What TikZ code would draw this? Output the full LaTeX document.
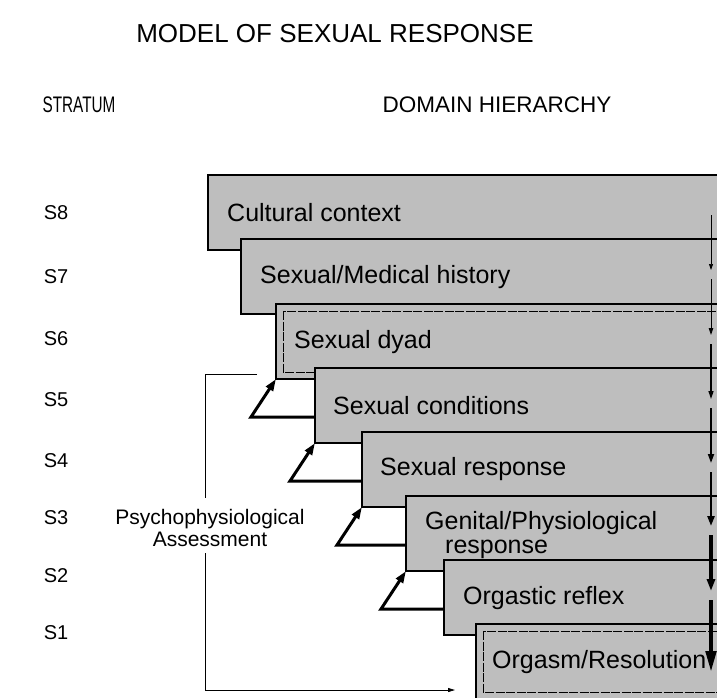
\documentclass[tikz,border=0pt]{standalone}
\usepackage{fontspec}
\setmainfont{Liberation Sans}
\usetikzlibrary{arrows.meta,calc}
\definecolor{boxgray}{RGB}{190,190,190}
\begin{document}
\begin{tikzpicture}[x=1pt,y=-1pt,
  box/.style={draw=black, line width=1.4pt, fill=boxgray, rectangle, anchor=north west,
    minimum width=600pt, minimum height=75pt, inner sep=0pt, outer sep=0pt},
  lbl/.style={anchor=west, inner sep=0pt, font=\fontsize{25}{24}\selectfont},
  strat/.style={inner sep=0pt, font=\fontsize{20}{22}\selectfont},
  innerline/.style={draw=black, line width=0.7pt, dash pattern=on 9pt off 1.5pt},
  barrow/.style={line width=3pt, -{Triangle[length=12pt 0 0,width=8pt 0 0]}},
  thinline/.style={line width=0.8pt},
  seg/.style={shorten <=2pt}]
\useasboundingbox (0,0) rectangle (717,697);
\clip (0,0) rectangle (717,697);

% headings
\node[inner sep=0pt, font=\fontsize{26}{28}\selectfont] (title) at (335,34) {MODEL OF SEXUAL RESPONSE};
\node[inner sep=0pt, font=\fontsize{22.5}{24}\selectfont, xscale=0.68] (stratum) at (79,105) {STRATUM};
\node[inner sep=0pt, font=\fontsize{22.5}{24}\selectfont] (domain) at (497,105) {DOMAIN HIERARCHY};

% stratum labels
\node[strat] (s8) at (56,213) {S8};
\node[strat] (s7) at (56,277) {S7};
\node[strat] (s6) at (56,339) {S6};
\node[strat] (s5) at (56,400) {S5};
\node[strat] (s4) at (56,461) {S4};
\node[strat] (s3) at (56,518) {S3};
\node[strat] (s2) at (56,576) {S2};
\node[strat] (s1) at (56,633) {S1};

% domain boxes
\node[box] (b8) at (208,175) {};
\node[lbl] (t8) at ($(b8.north west)+(19,38)$) {Cultural context};
\node[box] (b7) at (241,239) {};
\node[lbl] (t7) at ($(b7.north west)+(19,38)$) {Sexual/Medical history};
\node[box] (b6) at (276,304) {};
\draw[innerline] ($(b6.north west)+(7,7)$) rectangle ($(b6.south east)+(-7,-7)$);
\node[lbl] (t6) at ($(b6.north west)+(18,38)$) {Sexual dyad};
\node[box] (b5) at (315,368) {};
\node[lbl] (t5) at ($(b5.north west)+(18,38)$) {Sexual conditions};
\node[box] (b4) at (362,432) {};
\node[lbl] (t4) at ($(b4.north west)+(18,37)$) {Sexual response};
\node[box] (b3) at (406,496) {};
\node[lbl, align=left] (t3) at ($(b3.north west)+(19,39)$) {Genital/Physiological\\\hspace*{20pt}response};
\node[box] (b2) at (444,560) {};
\node[lbl] (t2) at ($(b2.north west)+(19,38)$) {Orgastic reflex};
\node[box] (b1) at (476,624) {};
\draw[innerline] ($(b1.north west)+(7,7)$) rectangle ($(b1.south east)+(-7,-7)$);
\node[lbl] (t1) at ($(b1.north west)+(16,38)$) {Orgasm/Resolution};

% bold bent arrows
\draw[barrow] ($(b5.north west)+(0,49)$) -- ($(b6.south west)+(-25,38)$) -- (b6.south west);
\draw[barrow] ($(b4.north west)+(0,49)$) -- ($(b5.south west)+(-25,38)$) -- (b5.south west);
\draw[barrow] ($(b3.north west)+(0,49)$) -- ($(b4.south west)+(-25,38)$) -- (b4.south west);
\draw[barrow] ($(b2.north west)+(0,49)$) -- ($(b3.south west)+(-25,38)$) -- (b3.south west);

% psychophysiological assessment bracket
\node[inner sep=0pt, align=center, font=\fontsize{21}{22}\selectfont] (psy) at (210,528) {Psychophysiological\\Assessment};
\coordinate (p1) at (257,374);
\coordinate (p2) at (205,374);
\coordinate (p3) at (205,498);
\coordinate (p4) at (205,553);
\coordinate (p5) at (205,690);
\coordinate (p6) at (455,690);
\draw[thinline] (p1) -- (p2) -- (p3);
\draw[thinline, -{Triangle[length=7pt 0 0,width=4pt 0 0]}] (p4) -- (p5) -- (p6);

% right-hand descending arrow
\coordinate (r8) at (711,213);
\coordinate (r7) at (711,277);
\coordinate (r6) at (711,342);
\coordinate (r5) at (711,406);
\coordinate (r4) at (711,470);
\coordinate (r3) at (711,533);
\coordinate (r2) at (711,598);
\coordinate (r1) at (711,662);
\coordinate (r0) at (711,673);
\draw[seg, line width=0.7pt, shorten >=7pt, -{Triangle[length=6pt 0 0,width=4pt 0 0]}] (r8) -- (r7);
\draw[seg, line width=0.9pt, shorten >=7pt, -{Triangle[length=7pt 0 0,width=4.5pt 0 0]}] (r7) -- (r6);
\draw[seg, line width=1.3pt, shorten >=7pt, -{Triangle[length=8pt 0 0,width=5pt 0 0]}] (r6) -- (r5);
\draw[seg, line width=1.8pt, shorten >=7pt, -{Triangle[length=9pt 0 0,width=6pt 0 0]}] (r5) -- (r4);
\draw[seg, line width=2.4pt, shorten >=7pt, -{Triangle[length=10pt 0 0,width=7pt 0 0]}] (r4) -- (r3);
\draw[seg, line width=3.2pt, shorten >=7pt, -{Triangle[length=12pt 0 0,width=8pt 0 0]}] (r3) -- (r2);
\draw[seg, line width=4.6pt, -{Triangle[length=22pt 0 0,width=10pt 0 0]}] (r2) -- (r0);
\end{tikzpicture}
\end{document}
